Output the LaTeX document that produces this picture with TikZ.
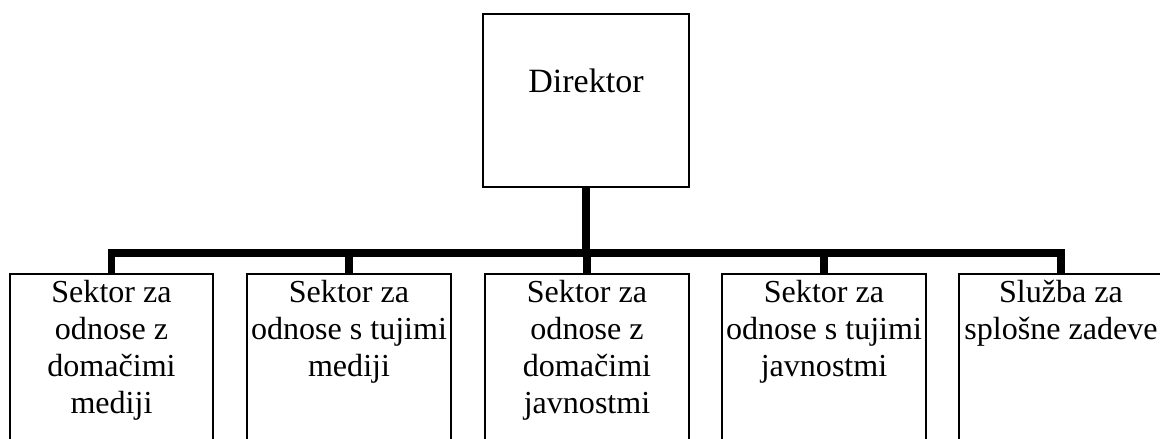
\documentclass[tikz,border=0pt]{standalone}
\usepackage{fontspec}
\setmainfont{Liberation Serif}
\usepackage{tikz}
\usetikzlibrary{positioning}
\tikzset{
  unitbox/.style={rectangle, draw=black, line width=1.4pt, inner sep=0pt,
                  minimum width=5.075cm, minimum height=5.1cm},
  dirbox/.style={rectangle, draw=black, line width=1.4pt, inner sep=0pt,
                 minimum width=5.15cm, minimum height=4.325cm},
  unittxt/.style={anchor=north, align=center, inner sep=5.2pt,
                  font=\fontsize{22.8}{26.3}\selectfont},
  dirtxt/.style={anchor=base, inner sep=0pt, font=\fontsize{24.2}{29}\selectfont},
  conn/.style={line width=5pt, draw=black, line join=miter},
}

\begin{document}
\begin{tikzpicture}[x=0.025cm, y=-0.025cm]
  \clip (0,0) rectangle (1160,439);
  % top of the chart
  \node[dirbox] (dir) at (586,100.5) {};
  \node[dirtxt] (dirt) at (586,93) {Direktor};
  % the five units
  \node[unitbox] (u1) at (111.5,376) {};
  \node[unitbox] (u2) at (349,376)   {};
  \node[unitbox] (u3) at (587,376)   {};
  \node[unitbox] (u4) at (824,376)   {};
  \node[unitbox] (u5) at (1061,376)  {};
  \node[unittxt] (t1) at (u1.north) {Sektor za\\odnose z\\domačimi\\mediji};
  \node[unittxt] (t2) at (u2.north) {Sektor za\\odnose s tujimi\\mediji};
  \node[unittxt] (t3) at (u3.north) {Sektor za\\odnose z\\domačimi\\javnostmi};
  \node[unittxt] (t4) at (u4.north) {Sektor za\\odnose s tujimi\\javnostmi};
  \node[unittxt] (t5) at (u5.north) {Služba za\\splošne zadeve};
  % connectors
  \coordinate (bus) at (586,253);
  \draw[conn] (dir.south) -- (bus);
  \foreach \u in {u1,u2,u3,u4,u5}
    \draw[conn] (bus) -| (\u.north);
\end{tikzpicture}
\end{document}
